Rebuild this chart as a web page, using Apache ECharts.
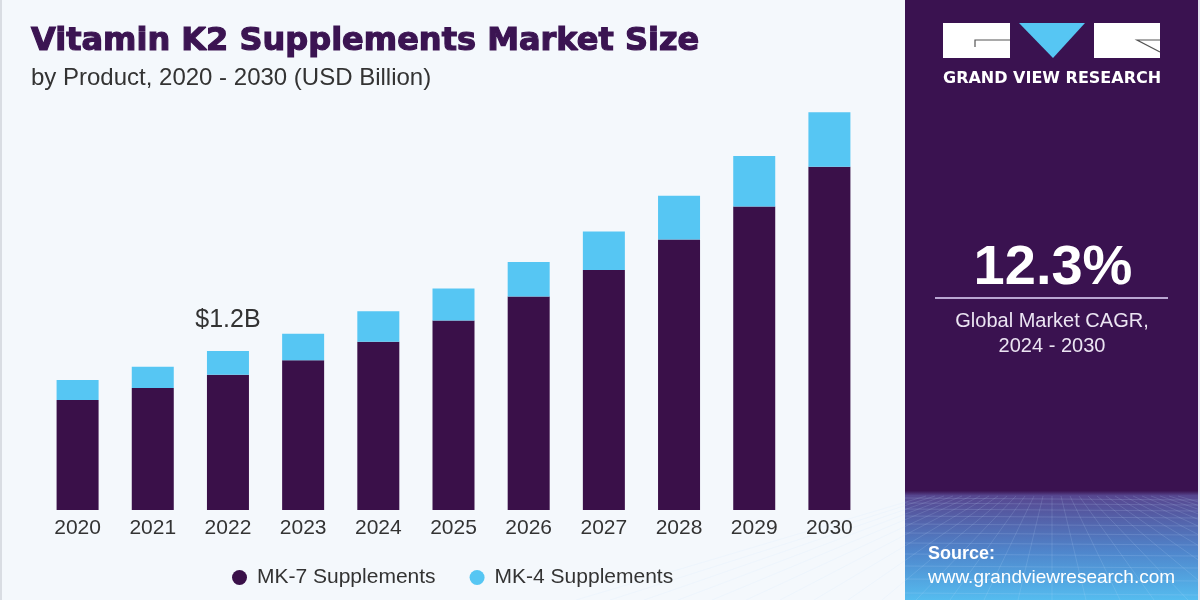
<!DOCTYPE html>
<html>
<head>
<meta charset="utf-8">
<script src="https://cdn.jsdelivr.net/npm/echarts@6/dist/echarts.min.js"></script>
<style>
  html, body { margin: 0; padding: 0; background: #f4f8fc; }
  #main { width: 1200px; height: 600px; }
</style>
</head>
<body>
<div id="main"></div>
<script>
// market size by product, USD billion
var years = ['2020', '2021', '2022', '2023', '2024', '2025', '2026', '2027', '2028', '2029', '2030'];
var mk7 = [0.83, 0.92, 1.02, 1.13, 1.27, 1.43, 1.61, 1.81, 2.04, 2.29, 2.59];
var mk4 = [0.15, 0.16, 0.18, 0.20, 0.23, 0.24, 0.26, 0.29, 0.33, 0.38, 0.41];
var seriesNames = ['MK-7 Supplements', 'MK-4 Supplements'];
var calloutIndex = 2;
var calloutText = '$1.2B';
var cagr = '12.3%';

var purple = '#3a1049';
var blue = '#56c6f3';

var myChart = echarts.init(document.getElementById('main'));

// faint perspective mesh at the bottom of the side panel
var mesh = [];
var hy = [498, 503, 509, 516, 524, 533, 543, 554, 566, 579, 593];
hy.forEach(function (y) {
    mesh.push({ type: 'line', shape: { x1: 905, y1: y, x2: 1198, y2: y + 2 }, style: { stroke: 'rgba(200,225,255,0.16)', lineWidth: 1 } });
});
for (var k = -14; k <= 14; k++) {
    mesh.push({ type: 'line', shape: { x1: 1052 + k * 9, y1: 496, x2: 1052 + k * 34, y2: 600 }, style: { stroke: 'rgba(200,225,255,0.15)', lineWidth: 1 } });
}

myChart.setOption({
    backgroundColor: '#f4f8fc',
    animation: false,
    title: {
        text: 'Vitamin K2 Supplements Market Size',
        subtext: 'by Product, 2020 - 2030 (USD Billion)',
        left: 31,
        top: 26,
        padding: 0,
        itemGap: 7,
        textStyle: {
            fontFamily: 'DejaVu Sans',
            fontWeight: 'bold',
            fontSize: 32,
            color: '#3b1452',
            textBorderColor: '#3b1452',
            textBorderWidth: 1.2
        },
        subtextStyle: {
            fontFamily: 'Liberation Sans',
            fontSize: 24,
            color: '#333'
        }
    },
    legend: {
        left: 227,
        top: 562,
        icon: 'circle',
        itemWidth: 15,
        itemHeight: 15,
        itemGap: 34,
        textStyle: { fontFamily: 'Liberation Sans', fontSize: 21, color: '#333', padding: [0, 0, 0, 5] },
        data: seriesNames
    },
    grid: { left: 40, right: 333, top: 46, bottom: 90 },
    xAxis: {
        type: 'category',
        data: years,
        axisLine: { show: false },
        axisTick: { show: false },
        axisLabel: { margin: 8, fontFamily: 'Liberation Sans', fontSize: 21, color: '#333' }
    },
    yAxis: {
        type: 'value',
        min: 0,
        max: 3.5,
        show: false,
        splitLine: { show: false }
    },
    series: [
        {
            name: seriesNames[0],
            type: 'bar',
            stack: 'total',
            barWidth: 42,
            itemStyle: { color: purple },
            data: mk7
        },
        {
            name: seriesNames[1],
            type: 'bar',
            stack: 'total',
            barWidth: 42,
            itemStyle: { color: blue },
            data: mk4.map(function (v, i) {
                if (i !== calloutIndex) return v;
                return {
                    value: v,
                    label: {
                        show: true,
                        position: 'top',
                        distance: 18,
                        formatter: calloutText,
                        fontFamily: 'Liberation Sans',
                        fontSize: 25,
                        color: '#333'
                    }
                };
            })
        }
    ],
    graphic: [
        // thin frame on the left edge
        { type: 'rect', left: 0, top: 0, shape: { width: 2, height: 600 }, style: { fill: '#d9dde3' } },
        // right panel
        {
            type: 'rect', left: 905, top: 0,
            shape: { width: 293, height: 600 },
            style: {
                fill: new echarts.graphic.LinearGradient(0, 0, 0, 1, [
                    { offset: 0, color: '#3a1250' },
                    { offset: 0.818, color: '#3a1250' },
                    { offset: 0.826, color: '#574790' },
                    { offset: 0.92, color: '#4f86cc' },
                    { offset: 1, color: '#55bcef' }
                ])
            }
        }
    ].concat(mesh).concat([
        { type: 'rect', left: 1198, top: 0, shape: { width: 2, height: 600 }, style: { fill: '#e4e6ee' } },
        // logo
        { type: 'rect', left: 943, top: 23, shape: { width: 67, height: 35 }, style: { fill: '#ffffff' } },
        { type: 'polyline', shape: { points: [[975, 47], [975, 40], [1010, 40]] }, style: { stroke: '#555', lineWidth: 1.2, fill: null } },
        { type: 'polygon', shape: { points: [[1019, 23], [1085, 23], [1053, 58]] }, style: { fill: '#56c6f3' } },
        { type: 'rect', left: 1094, top: 23, shape: { width: 66, height: 35 }, style: { fill: '#ffffff' } },
        { type: 'polyline', shape: { points: [[1160, 40], [1137, 40], [1160, 52]] }, style: { stroke: '#555', lineWidth: 1.2, fill: null } },
        {
            type: 'text', x: 943, y: 79,
            style: { text: 'GRAND VIEW RESEARCH', font: 'bold 16px "DejaVu Sans"', fill: '#ffffff', verticalAlign: 'middle' }
        },
        // CAGR block
        {
            type: 'text', x: 1053, y: 269,
            style: { text: cagr, font: 'bold 56px "Liberation Sans"', fill: '#ffffff', align: 'center', verticalAlign: 'middle' }
        },
        { type: 'line', shape: { x1: 935, y1: 298, x2: 1168, y2: 298 }, style: { stroke: '#b9a6d2', lineWidth: 2 } },
        {
            type: 'text', x: 1052, y: 321,
            style: { text: 'Global Market CAGR,', font: '20px "Liberation Sans"', fill: '#ebe4f2', align: 'center', verticalAlign: 'middle' }
        },
        {
            type: 'text', x: 1052, y: 346,
            style: { text: '2024 - 2030', font: '20px "Liberation Sans"', fill: '#ebe4f2', align: 'center', verticalAlign: 'middle' }
        },
        // source
        {
            type: 'text', x: 928, y: 554,
            style: { text: 'Source:', font: 'bold 18px "Liberation Sans"', fill: '#ffffff', verticalAlign: 'middle' }
        },
        {
            type: 'text', x: 928, y: 578,
            style: { text: 'www.grandviewresearch.com', font: '19px "Liberation Sans"', fill: '#ffffff', verticalAlign: 'middle' }
        }
    ])
});
</script>
</body>
</html>
